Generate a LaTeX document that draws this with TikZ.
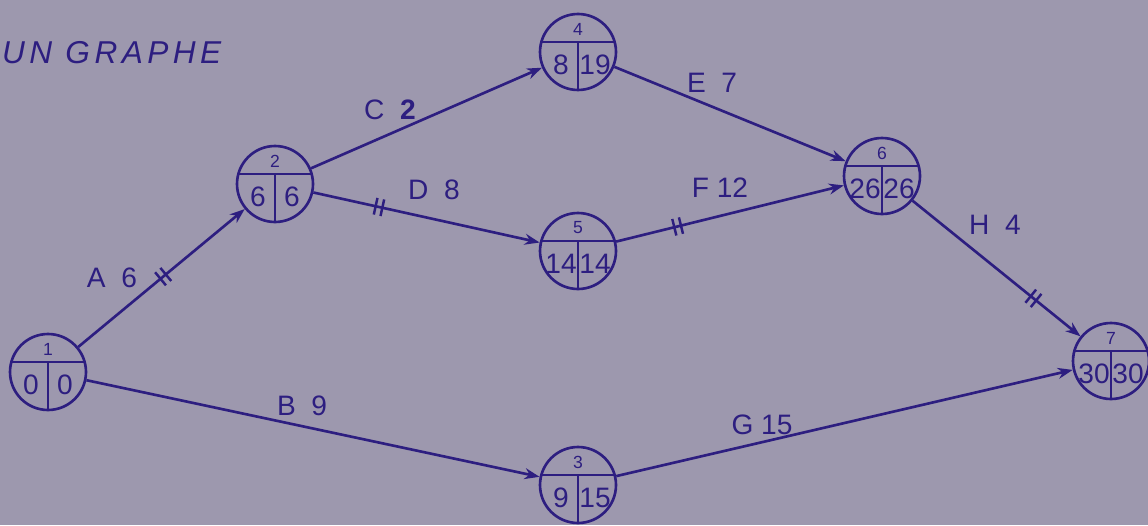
\documentclass[tikz,border=0pt]{standalone}
\usepackage{fontspec}
\setsansfont{Liberation Sans}
\usetikzlibrary{arrows.meta,calc}
\definecolor{paper}{HTML}{9D98AE}
\definecolor{ink}{HTML}{2D1E80}
\newfontfamily\titlefont[LetterSpace=14]{Liberation Sans}
\newcommand{\critmark}{\rule[-0.17cm]{1.4pt}{0.34cm}\hspace{2.5pt}\rule[-0.17cm]{1.4pt}{0.34cm}}

\begin{document}
\begin{tikzpicture}[x=0.02cm,y=0.02cm,
  font=\sffamily,>={Stealth[length=0.3cm,width=0.22cm]},
  evt/.style={circle, draw=ink, line width=1.5pt, minimum size=1.52cm, inner sep=0pt},
  split/.style={draw=ink, line width=1.5pt},
  num/.style={font=\sffamily\fontsize{10}{12}\selectfont, text=ink},
  val/.style={font=\sffamily\fontsize{16}{18}\selectfont, text=ink},
  lbl/.style={font=\sffamily\fontsize{16}{18}\selectfont, text=ink},
  arc/.style={->, line width=1.5pt, color=ink},
  crit/.style={sloped, inner sep=0pt, text=ink},
]
\useasboundingbox (0,0) rectangle (1148,525);
\fill[paper] (0,0) rectangle (1148,525);

\node[font=\titlefont\itshape\fontsize{18}{20}\selectfont, text=ink, anchor=west] (title) at (-4,472) {UN GRAPHE};

% events
\foreach \n/\x/\y/\e/\l in {1/48/153/0/0, 2/275/341/6/6, 3/578/40/9/15, 4/578/473/8/19, 5/578/274/14/14, 6/882/349/26/26, 7/1111/164/30/30} {
  \node[evt] (n\n) at (\x,\y) {};
  \draw[split] (n\n.165) -- (n\n.15);
  \draw[split] (n\n.center |- n\n.15) -- (n\n.south);
  \node[num] at ($(n\n)+(0,23)$) {\n};
  \node[val] at ($(n\n)+(-17,-13)$) {\e};
  \node[val] at ($(n\n)+(17,-13)$) {\l};
}

% tasks
\draw[arc] (n1) -- node[crit, pos=0.51] {\critmark} (n2);
\draw[arc] (n1) -- (n3);
\draw[arc] (n2) -- (n4);
\draw[arc] (n2) -- node[crit, pos=0.29] {\critmark} (n5);
\draw[arc] (n4) -- (n6);
\draw[arc] (n5) -- node[crit, pos=0.27] {\critmark} (n6);
\draw[arc] (n6) -- node[crit, pos=0.72] {\critmark} (n7);
\draw[arc] (n3) -- (n7);

\node[lbl] at (112,247) {A\ \ 6};
\node[lbl] at (302,119) {B\ \ 9};
\node[lbl] at (390,415) {C\ \ \textbf{2}};
\node[lbl] at (434,335) {D\ \ 8};
\node[lbl] at (712,442) {E\ \ 7};
\node[lbl] at (720,337) {F 12};
\node[lbl] at (762,100) {G 15};
\node[lbl] at (995,300) {H\ \ 4};
\end{tikzpicture}
\end{document}
